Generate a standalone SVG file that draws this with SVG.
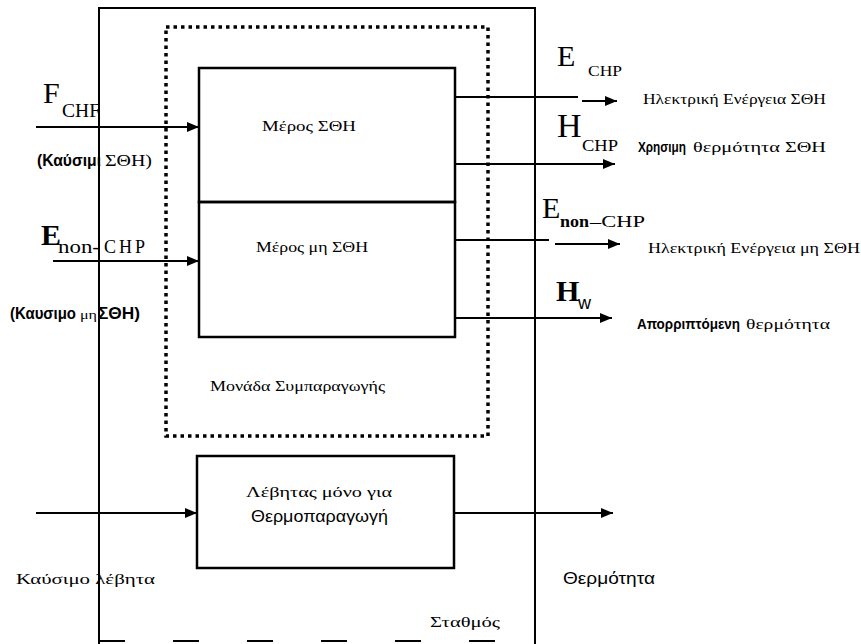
<svg xmlns="http://www.w3.org/2000/svg" width="861" height="644" viewBox="0 0 861 644">
<defs>
<marker id="ah" viewBox="0 0 12 10" refX="12" refY="5" markerWidth="12" markerHeight="10" markerUnits="userSpaceOnUse" orient="auto">
<path d="M0,0 L12,5 L0,10 Z" fill="#000"/>
</marker>
<style>
.ln{stroke:#000;stroke-width:2;fill:none}
.bx{stroke:#000;stroke-width:2.5;fill:none}
.ar{stroke:#000;stroke-width:2;fill:none;marker-end:url(#ah)}
.dot{stroke:#000;stroke-width:3.5;fill:none;stroke-dasharray:3.5 4}
.s{font-family:"Liberation Serif","Times New Roman",serif;fill:#000}
.n{font-family:"Liberation Sans Narrow","Liberation Sans",Arial,sans-serif;fill:#000}
</style>
</defs>
<rect width="861" height="644" fill="#fff"/>
<g id="station">
<path class="ln" d="M99,644 L99,8 L535,8 L535,644"/>
<path class="ln" d="M99,641 L535,641" stroke="#444" stroke-dasharray="26 48"/>
<text class="s" x="430" y="627" font-size="15" textLength="70" lengthAdjust="spacingAndGlyphs">Σταθμός</text>
</g>
<g id="chp-unit">
<rect class="dot" x="166" y="27" width="322" height="409"/>
<text class="s" x="210" y="391" font-size="15" textLength="175" lengthAdjust="spacingAndGlyphs">Μονάδα Συμπαραγωγής</text>
</g>
<g id="chp-part">
<rect class="bx" x="199" y="68" width="256" height="134"/>
<text class="s" x="262" y="131" font-size="14" textLength="94" lengthAdjust="spacingAndGlyphs">Μέρος ΣΘΗ</text>
</g>
<g id="nonchp-part">
<rect class="bx" x="199" y="202" width="256" height="135"/>
<text class="s" x="256" y="252" font-size="14" textLength="112" lengthAdjust="spacingAndGlyphs">Μέρος μη ΣΘΗ</text>
</g>
<g id="boiler">
<rect class="bx" x="197" y="456" width="257" height="112"/>
<text class="s" x="246" y="497" font-size="15" textLength="146" lengthAdjust="spacingAndGlyphs">Λέβητας μόνο για</text>
<text class="n" x="251" y="522" font-size="17" textLength="137" lengthAdjust="spacingAndGlyphs">Θερμοπαραγωγή</text>
</g>
<g id="connectors">
<line class="ar" x1="36" y1="127" x2="199" y2="127"/>
<line class="ar" x1="53" y1="261" x2="199" y2="261"/>
<line class="ar" x1="36" y1="513" x2="197" y2="513"/>
<line class="ln" x1="455" y1="97" x2="578" y2="97"/>
<line class="ar" x1="582" y1="101" x2="617" y2="101"/>
<line class="ar" x1="455" y1="164" x2="615" y2="164"/>
<line class="ln" x1="455" y1="240" x2="549" y2="240"/>
<line class="ar" x1="555" y1="244" x2="620" y2="244"/>
<line class="ar" x1="455" y1="318" x2="612" y2="318"/>
<line class="ar" x1="454" y1="513" x2="613" y2="513"/>
</g>
<g id="labels">
<text class="s" x="43" y="103" font-size="30">F</text>
<text class="s" x="62" y="117" font-size="18" textLength="38" lengthAdjust="spacingAndGlyphs">CHF</text>
<text class="n" x="37" y="166" font-size="16" font-weight="bold" textLength="64" lengthAdjust="spacingAndGlyphs">(Καύσιμι</text>
<text class="s" x="105" y="166" font-size="16" textLength="47" lengthAdjust="spacingAndGlyphs">ΣΘΗ)</text>
<text class="s" x="41" y="245" font-size="30" font-weight="bold">E</text>
<text class="s" x="58" y="253" font-size="18" textLength="42" lengthAdjust="spacingAndGlyphs">non-</text>
<text class="s" x="104" y="253" font-size="18" textLength="41" lengthAdjust="spacing">CHP</text>
<text class="n" x="10" y="319" font-size="16" font-weight="bold" textLength="66" lengthAdjust="spacingAndGlyphs">(Καυσιμο</text>
<text class="s" x="80" y="319" font-size="13" textLength="17" lengthAdjust="spacingAndGlyphs">μη</text>
<text class="n" x="98" y="319" font-size="16" font-weight="bold" textLength="42" lengthAdjust="spacingAndGlyphs">ΣΘΗ)</text>
<text class="s" x="16" y="584" font-size="15" textLength="139" lengthAdjust="spacingAndGlyphs">Καύσιμο λέβητα</text>
<text class="n" x="563" y="584" font-size="17" textLength="92" lengthAdjust="spacingAndGlyphs">Θερμότητα</text>
<text class="s" x="557" y="66" font-size="30">E</text>
<text class="s" x="588" y="76" font-size="15" textLength="34" lengthAdjust="spacingAndGlyphs">CHP</text>
<text class="s" x="643" y="104" font-size="14" textLength="183" lengthAdjust="spacingAndGlyphs">Ηλεκτρική Ενέργεια ΣΘΗ</text>
<text class="s" x="557" y="137" font-size="34">H</text>
<text class="s" x="582" y="151" font-size="17" textLength="36" lengthAdjust="spacingAndGlyphs">CHP</text>
<text class="n" x="638" y="152" font-size="15" font-weight="bold" textLength="48" lengthAdjust="spacingAndGlyphs">Χρησιμη</text>
<text class="s" x="693" y="152" font-size="15" textLength="133" lengthAdjust="spacingAndGlyphs">θερμότητα ΣΘΗ</text>
<text class="s" x="542" y="218" font-size="30">E</text>
<text class="s" x="560" y="227" font-size="17" font-weight="bold" textLength="29" lengthAdjust="spacingAndGlyphs">non</text>
<text class="s" x="590" y="227" font-size="17" textLength="55" lengthAdjust="spacingAndGlyphs">–CHP</text>
<text class="s" x="648" y="253" font-size="14" textLength="212" lengthAdjust="spacingAndGlyphs">Ηλεκτρική Ενέργεια μη  ΣΘΗ</text>
<text class="s" x="556" y="301" font-size="30" font-weight="bold">H</text>
<text class="n" x="578" y="309" font-size="18">w</text>
<text class="n" x="637" y="329" font-size="14" font-weight="bold" textLength="103" lengthAdjust="spacingAndGlyphs">Απορριπτόμενη</text>
<text class="s" x="746" y="329" font-size="15" textLength="84" lengthAdjust="spacingAndGlyphs">θερμότητα</text>
</g>
</svg>
